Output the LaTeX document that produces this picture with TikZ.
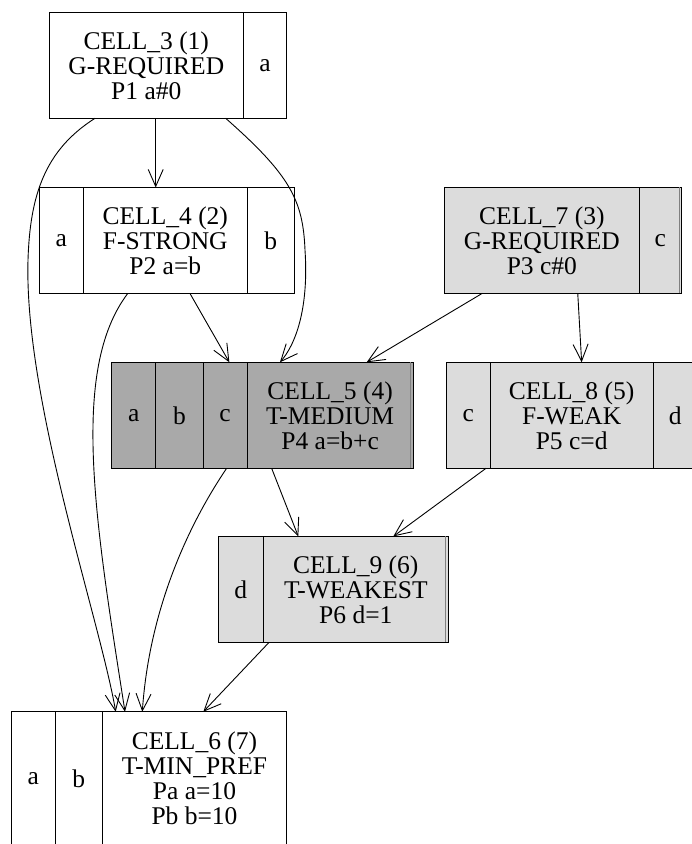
\documentclass[tikz,border=0pt]{standalone}
\usepackage{fontspec}
\setmainfont{Liberation Serif}
\usetikzlibrary{arrows.meta,positioning}

\definecolor{lightcell}{HTML}{DCDCDC}
\definecolor{darkcell}{HTML}{A9A9A9}
\newcommand{\cellfont}{\fontsize{25.5}{25}\selectfont}

\tikzset{
    field/.style={draw, line width=1pt, inner sep=0pt, outer sep=0pt,
                  minimum height=106, align=center, font=\cellfont},
    rim/.style={gray, line width=1pt},
    link/.style={->, line width=0.9pt},
}

\begin{document}
\begin{tikzpicture}[x=1pt, y=-1pt, >={Straight Barb[length=17pt, width=15pt]}]

            \path[use as bounding box] (0,0) rectangle (692,844);
            \clip (0,0) rectangle (692,844);

% ---- CELL_3 ----
            \node[field, minimum width=194] (c3) at (146.3,65.3)
                {CELL\_3 (1)\\G-REQUIRED\\P1 a\#0};
            \node[field, minimum width=43.4, right=0pt of c3] (c3a) {a};

% ---- CELL_4 ----
            \node[field, minimum width=164] (c4) at (165.3,240.5)
                {CELL\_4 (2)\\F-STRONG\\P2 a=b};
            \node[field, minimum width=44, left=0pt of c4] (c4a) {a};
            \node[field, minimum width=47, right=0pt of c4] (c4b) {b};

% ---- CELL_7 ----
            \node[field, fill=lightcell, minimum width=194.3] (c7) at (541.85,240.3)
                {CELL\_7 (3)\\G-REQUIRED\\P3 c\#0};
            \node[field, fill=lightcell, minimum width=42.7, right=0pt of c7] (c7c) {c};
            \draw[rim] ([xshift=-2.5]c7c.north east) -- ([xshift=-2.5]c7c.south east);

% ---- CELL_5 ----
            \node[field, fill=darkcell, minimum width=166.3] (c5) at (330.15,415.3)
                {CELL\_5 (4)\\T-MEDIUM\\P4 a=b+c};
            \node[field, fill=darkcell, minimum width=43.7, left=0pt of c5] (c5c) {c};
            \node[field, fill=darkcell, minimum width=47.6, left=0pt of c5c] (c5b) {b};
            \node[field, fill=darkcell, minimum width=44, left=0pt of c5b] (c5a) {a};
            \draw[rim] ([xshift=-2.5]c5.north east) -- ([xshift=-2.5]c5.south east);

% ---- CELL_8 ----
            \node[field, fill=lightcell, minimum width=163.3] (c8) at (571.65,415.3)
                {CELL\_8 (5)\\F-WEAK\\P5 c=d};
            \node[field, fill=lightcell, minimum width=43.3, left=0pt of c8] (c8c) {c};
            \node[field, fill=lightcell, minimum width=44, right=0pt of c8] (c8d) {d};

% ---- CELL_9 ----
            \node[field, fill=lightcell, minimum width=185] (c9) at (355.8,589.4)
                {CELL\_9 (6)\\T-WEAKEST\\P6 d=1};
            \node[field, fill=lightcell, minimum width=45, left=0pt of c9] (c9d) {d};
            \draw[rim] ([xshift=-2.5]c9.north east) -- ([xshift=-2.5]c9.south east);

% ---- CELL_6 ----
            \node[field, minimum width=184.4, minimum height=133.3] (c6) at (194.5,778.4)
                {CELL\_6 (7)\\T-MIN\_PREF\\Pa a=10\\Pb b=10};
            \node[field, minimum width=47.3, minimum height=133.3, left=0pt of c6] (c6b) {b};
            \node[field, minimum width=43.3, minimum height=133.3, left=0pt of c6b] (c6a) {a};

% ---- Edges ----
            \draw[link] ([xshift=9.4]c3.south) -- ([xshift=-9.6]c4.north);
            \draw[link] ([xshift=-17.6]c3.south east)
                .. controls (290,175) and (303,200) .. (305,250)
                .. controls (309,310) and (295,345) .. ([xshift=-50.2]c5.north);
            \draw[link] ([xshift=45.7]c3.south west)
                .. controls (45,150) and (30,195) .. (28,260)
                .. controls (24,400) and (100,620) .. ([xshift=13.4]c6.north west);
            \draw[link] ([xshift=24.7]c4.south) -- ([xshift=4.2]c5c.north);
            \draw[link] ([xshift=-37.6]c4.south)
                .. controls (70,370) and (95,520) .. ([xshift=22.7]c6.north west);
            \draw[link] ([xshift=-59.5]c7.south) -- ([xshift=36.5]c5.north);
            \draw[link] ([xshift=35.9]c7.south) -- ([xshift=10]c8.north);
            \draw[link] ([xshift=1.5]c5c.south)
                .. controls (195,515) and (150,600) .. ([xshift=40]c6.north west);
            \draw[link] ([xshift=-58.5]c5.south) -- ([xshift=35]c9.north west);
            \draw[link] ([xshift=-4]c8.south west) -- ([xshift=37.5]c9.north);
            \draw[link] ([xshift=5.7]c9.south west) -- ([xshift=8.8]c6.north);

\end{tikzpicture}
\end{document}
